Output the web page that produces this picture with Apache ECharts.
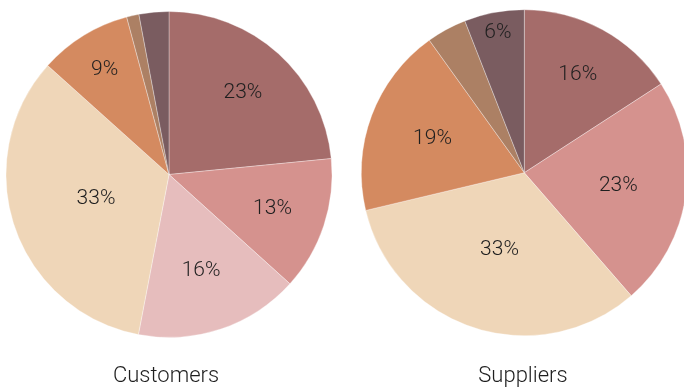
<!DOCTYPE html>
<html>
<head>
<meta charset="utf-8">
<script src="https://cdn.jsdelivr.net/npm/echarts@6/dist/echarts.min.js"></script>
<style>
  html, body { margin: 0; padding: 0; background: #fff; }
  #chart { width: 684px; height: 392px; }
</style>
</head>
<body>
<div id="chart"></div>
<script>
// Share of each segment (%), clockwise from 12 o'clock
const customerShares = [23, 13, 16, 33, 9, 1.2, 2.9];
const supplierShares = [16, 23, 33, 19, 4, 6];
const pieTitles = ['Customers', 'Suppliers'];

// Segment palette
const palette = ['#a56c6a', '#d5928e', '#e6bdbd', '#efd6b8', '#d48a60', '#ac8064', '#7a5c60'];
const customerColors = [0, 1, 2, 3, 4, 5, 6].map(i => palette[i]);
const supplierColors = [0, 1, 3, 4, 5, 6].map(i => palette[i]);

// Distance of each value label from the pie centre (px)
const customerLabelDist = [110, 109, 101, 77, 123, 0, 0];
const supplierLabelDist = [112, 95, 81, 98, 0, 142];

const R = 163;
const centers = [[169, 174.5], [524.3, 172.7]];
const MIN_LABEL = 5;
const FONT = 'Roboto, "Open Sans", sans-serif';

function midAngles(values) {
  const total = values.reduce((a, b) => a + b, 0);
  let cum = 0;
  return values.map(v => {
    const mid = (cum + v / 2) / total * Math.PI * 2;
    cum += v;
    return mid;
  });
}

function pieSeries(values, colors, dists, center) {
  const mids = midAngles(values);
  return {
    type: 'pie',
    center: center,
    radius: [0, R],
    startAngle: 90,
    clockwise: true,
    silent: true,
    animation: false,
    avoidLabelOverlap: false,
    itemStyle: { borderColor: 'rgba(255,255,255,0.55)', borderWidth: 0.6 },
    label: {
      show: true,
      position: 'inside',
      color: '#1f1f1f',
      fontFamily: FONT,
      fontWeight: 300,
      fontSize: 21,
      formatter: p => (p.value >= MIN_LABEL ? Math.round(p.value) + '%' : '')
    },
    labelLine: { show: false },
    labelLayout: p => {
      const a = mids[p.dataIndex];
      const d = dists[p.dataIndex];
      return {
        x: center[0] + Math.sin(a) * d,
        y: center[1] - Math.cos(a) * d,
        align: 'center',
        verticalAlign: 'middle'
      };
    },
    data: values.map((v, i) => ({ value: v, itemStyle: { color: colors[i] } }))
  };
}

const chart = echarts.init(document.getElementById('chart'), null, { renderer: 'canvas' });
chart.setOption({
  backgroundColor: '#ffffff',
  series: [
    pieSeries(customerShares, customerColors, customerLabelDist, centers[0]),
    pieSeries(supplierShares, supplierColors, supplierLabelDist, centers[1])
  ],
  graphic: pieTitles.map((t, i) => ({
    type: 'text',
    x: [166, 523][i],
    y: 376,
    silent: true,
    style: {
      text: t,
      fill: '#1f1f1f',
      font: '300 22px ' + FONT,
      align: 'center',
      verticalAlign: 'middle',
      textAlign: 'center',
      textVerticalAlign: 'middle'
    }
  }))
});
</script>
</body>
</html>
